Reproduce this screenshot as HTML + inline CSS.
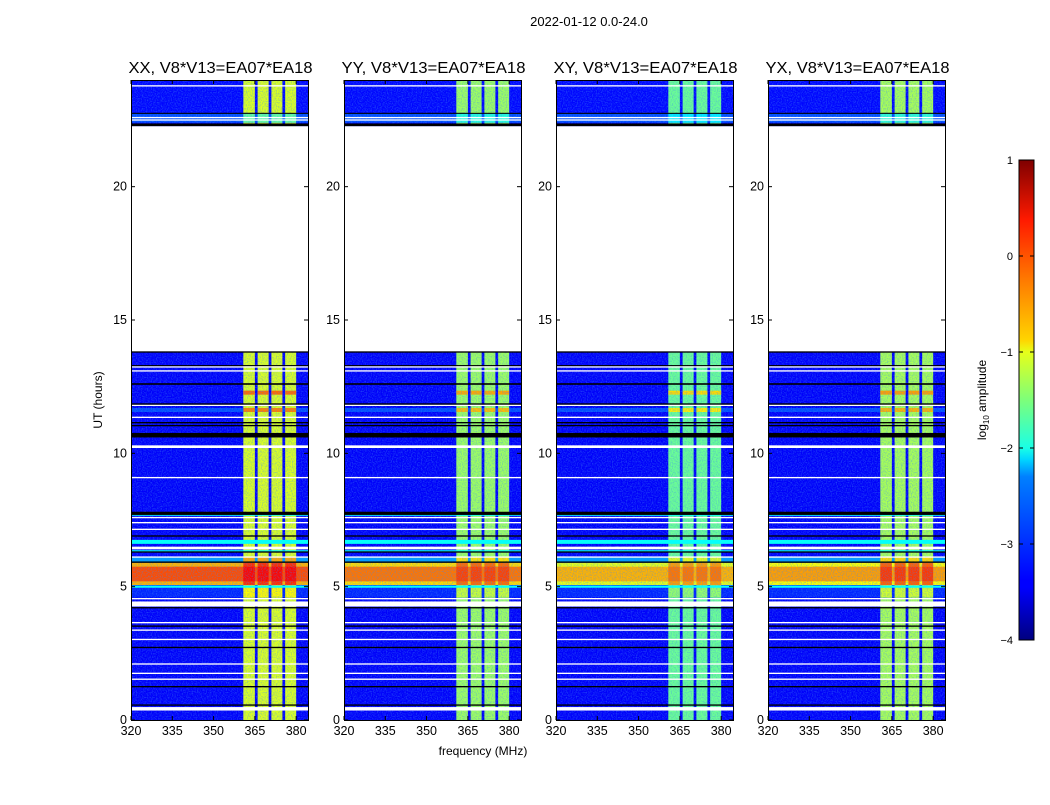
<!DOCTYPE html>
<html><head><meta charset="utf-8">
<style>
body{margin:0;background:#fff;}
svg text{font-family:"Liberation Sans",sans-serif;fill:#000;}
</style></head>
<body>
<svg id="fig" width="1050" height="800" xmlns="http://www.w3.org/2000/svg">
<text x="589" y="26" font-size="13" text-anchor="middle">2022-01-12 0.0-24.0</text>
<text x="483" y="755" font-size="12" text-anchor="middle">frequency (MHz)</text>
<text transform="translate(102,400) rotate(-90)" font-size="12" text-anchor="middle">UT (hours)</text>
<defs><linearGradient id="jet" x1="0" y1="1" x2="0" y2="0">
<stop offset="0" stop-color="#00007f"/><stop offset="0.11" stop-color="#0000ff"/><stop offset="0.125" stop-color="#0000ff"/><stop offset="0.34" stop-color="#0080ff"/><stop offset="0.375" stop-color="#00d4ff"/><stop offset="0.4" stop-color="#1affe6"/><stop offset="0.5" stop-color="#7dff7a"/><stop offset="0.6" stop-color="#e6ff1a"/><stop offset="0.625" stop-color="#ffd400"/><stop offset="0.75" stop-color="#ff7a00"/><stop offset="0.875" stop-color="#ff1a00"/><stop offset="1" stop-color="#7f0000"/>
</linearGradient>
<filter id="noise" x="0" y="0" width="100%" height="100%"><feTurbulence type="fractalNoise" baseFrequency="0.8" numOctaves="1" seed="3"/><feColorMatrix type="matrix" values="0 0 0 0 0.05  0 0 0 0 0.25  0 0 0 0 0.9  2.2 0 0 0 -0.9"/><feComposite in2="SourceGraphic" operator="in"/></filter>
</defs>
<g id="panels"></g>
<g>
<rect x="1019" y="160" width="15" height="480" fill="url(#jet)" stroke="#000" stroke-width="1"/>
<text transform="translate(986,400) rotate(-90)" font-size="12" text-anchor="middle">log<tspan font-size="8" dy="3">10</tspan><tspan dy="-3"> amplitude</tspan></text>
<g id="cbticks"></g>
</g>
</svg>
<script>
// ---- data ----
const panelTitles=["XX, V8*V13=EA07*EA18","YY, V8*V13=EA07*EA18","XY, V8*V13=EA07*EA18","YX, V8*V13=EA07*EA18"];
const panelBandLevel=[-1.05,-1.35,-1.6,-1.3];
const panelHotBg=[0.0,-0.2,-0.5,-0.4];
const xTicks=[320,335,350,365,380];
const yTicks=[0,5,10,15,20];
const cbTicks=[-4,-3,-2,-1,0,1];
// data segments in hours: start, end, background level, band level offset
const segStart=[22.27,0,12.2,11.55,5.06,5.2,5.9,4.6,22.4];
const segEnd=[24,13.8,12.35,11.7,5.9,5.75,6.1,5.06,22.75];
const segBg=[-3.35,-3.4,null,-3.0,"hot","hot2",-2.6,-3.2,-3.0];
const segBand=[0,0,0.9,0.8,1.2,1.4,0.6,0.2,-0.6];
// frequency bands (MHz)
const bandStart=[360.8,366,371,376];
const bandEnd=[365,370,375,380];
// flagged lines: time (h), height (h)
const whiteT=[13.24,13.09,11.8,11.35,10.25,9.09,7.59,7.4,7.15,6.45,6.11,4.55,4.35,3.65,3.37,3.02,2.1,1.75,1.53,0.42,23.78,22.59,22.5];
const whiteH=[0.05,0.05,0.05,0.05,0.1,0.05,0.05,0.05,0.05,0.1,0.05,0.05,0.19,0.05,0.05,0.05,0.05,0.05,0.05,0.13,0.05,0.05,0.05];
const blackT=[13.8,13.29,12.6,11.85,11.15,11.04,10.68,7.75,6.9,6.3,5.92,4.21,3.52,2.72,1.25,0.56,22.75,22.32];
const blackH=[0.05,0.04,0.06,0.05,0.05,0.05,0.17,0.12,0.05,0.05,0.05,0.05,0.05,0.05,0.05,0.05,0.04,0.1];
const cyanT=[6.68,6.33,7.7,5.0];
const cyanH=[0.15,0.07,0.08,0.08];

// ---- helpers ----
function jet(v){let t=(v+4)/5;t=Math.max(0,Math.min(1,t));
 const r=Math.max(0,Math.min(1,1.5-Math.abs(4*t-3))),g=Math.max(0,Math.min(1,1.5-Math.abs(4*t-2))),b=Math.max(0,Math.min(1,1.5-Math.abs(4*t-1)));
 return `rgb(${Math.round(r*255)},${Math.round(g*255)},${Math.round(b*255)})`;}
const NS="http://www.w3.org/2000/svg";
function mk(tag,attrs,parent){const e=document.createElementNS(NS,tag);for(const k in attrs)e.setAttribute(k,attrs[k]);parent.appendChild(e);return e;}
const panelX=[131,344,556,768],PW=177,PT=80,PH=640;
const fmin=320,fmax=384.3;
const root=document.getElementById('panels');
panelTitles.forEach((title,p)=>{
 const x0=panelX[p];
 const xs=f=>x0+(f-fmin)/(fmax-fmin)*PW;
 const ys=t=>PT+PH-(t/24)*PH;
 const g=mk('g',{},root);
 
 
 const cg=mk('g',{},g);
 
 
 segStart.forEach((s,i)=>{
  const e=segEnd[i];const y1=ys(e),h=ys(s)-y1;
  if(segBg[i]!==null){
   const bg=segBg[i]==="hot"?panelHotBg[p]-0.5:segBg[i]==="hot2"?panelHotBg[p]:segBg[i];
   const r=mk('rect',{x:x0,y:y1,width:PW,height:h,fill:jet(bg)},cg);
   
   
  }
  bandStart.forEach((b,j)=>{
   const r=mk('rect',{x:xs(b),y:y1,width:xs(bandEnd[j])-xs(b),height:h,fill:jet(panelBandLevel[p]+segBand[i])},cg);
   
   
  });
 });
 [[0,13.8],[22.27,24]].forEach(([a,b])=>{
  const n=mk('rect',{x:x0,y:ys(b),width:PW,height:ys(a)-ys(b),fill:"#000",filter:"url(#noise)",opacity:0.55},cg);
  
  
 });
 cyanT.forEach((t,i)=>{const r=mk('rect',{x:x0,y:ys(t+cyanH[i]/2),width:PW,height:ys(0)-ys(cyanH[i]),fill:jet(-2.1)},cg);
  });
 whiteT.forEach((t,i)=>{const r=mk('rect',{x:x0,y:ys(t+whiteH[i]/2),width:PW,height:Math.max(1,ys(0)-ys(whiteH[i])),fill:"#fff"},cg);
  });
 blackT.forEach((t,i)=>{const r=mk('rect',{x:x0,y:ys(t+blackH[i]/2),width:PW,height:Math.max(1,ys(0)-ys(blackH[i])),fill:"#000"},cg);
  });
 const fr=mk('rect',{x:x0+0.5,y:PT+0.5,width:PW,height:PH,fill:"none",stroke:"#000","stroke-width":1},g);
 
 const tt=mk('text',{x:x0+PW/2+1,y:73,"font-size":15.5,"text-anchor":"middle",textLength:184,lengthAdjust:"spacingAndGlyphs"},g);tt.textContent=title;
 
 xTicks.forEach(v=>{const x=xs(v);
  mk('line',{x1:x,x2:x,y1:PT+PH,y2:PT+PH-4,stroke:"#000"},g);
  mk('line',{x1:x,x2:x,y1:PT,y2:PT+4,stroke:"#000"},g);
  const t=mk('text',{x:x,y:PT+PH+15,"font-size":12.5,"text-anchor":"middle"},g);t.textContent=v;
  });
 yTicks.forEach(v=>{const y=ys(v);
  mk('line',{x1:x0,x2:x0+4,y1:y,y2:y,stroke:"#000"},g);
  mk('line',{x1:x0+PW-4,x2:x0+PW,y1:y,y2:y,stroke:"#000"},g);
  const t=mk('text',{x:x0-4,y:y+4,"font-size":12.5,"text-anchor":"end"},g);t.textContent=v;
  });
});
const cb=document.getElementById('cbticks');
cbTicks.forEach(v=>{const y=640-(v+4)/5*480;
 mk('line',{x1:1019,x2:1023,y1:y,y2:y,stroke:"#000"},cb);
 mk('line',{x1:1030,x2:1034,y1:y,y2:y,stroke:"#000"},cb);
 const t=mk('text',{x:1013,y:y+4,"font-size":11,"text-anchor":"end"},cb);
 t.textContent=v<0?"\u2212"+(-v):v;
 });
</script>
</body></html>
